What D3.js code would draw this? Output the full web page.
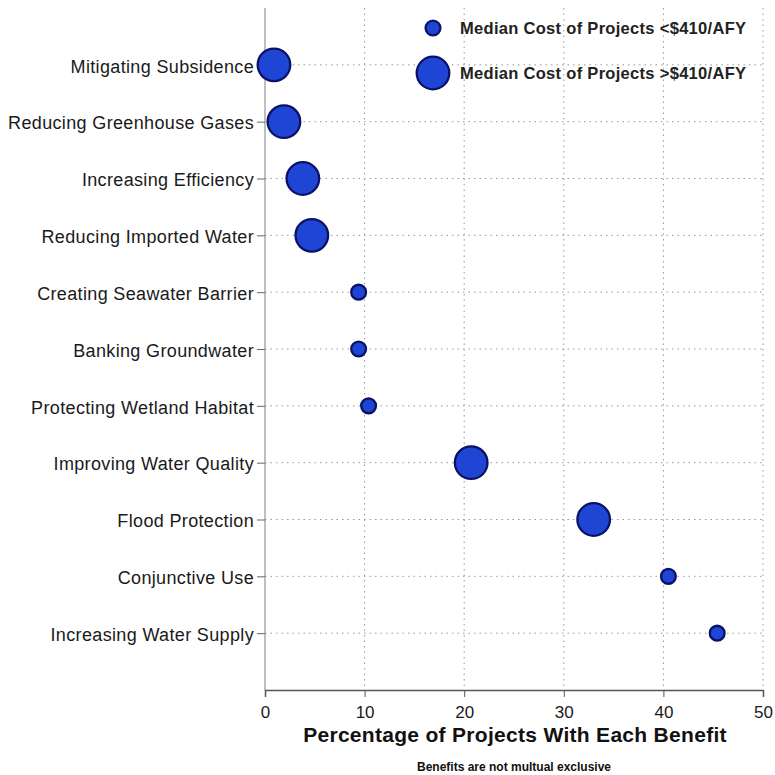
<!DOCTYPE html>
<html>
<head>
<meta charset="utf-8">
<script src="https://cdn.jsdelivr.net/npm/d3@7"></script>
<style>
  body { margin: 0; background: #fff; }
  text { font-family: "Liberation Sans", Arial, Helvetica, sans-serif; }
</style>
</head>
<body>
<svg id="chart" width="775" height="775"></svg>
<script>
const categories = [
  "Mitigating Subsidence",
  "Reducing Greenhouse Gases",
  "Increasing Efficiency",
  "Reducing Imported Water",
  "Creating Seawater Barrier",
  "Banking Groundwater",
  "Protecting Wetland Habitat",
  "Improving Water Quality",
  "Flood Protection",
  "Conjunctive Use",
  "Increasing Water Supply"
];
const percentages = [0.9, 1.9, 3.8, 4.7, 9.4, 9.4, 10.4, 20.7, 33.0, 40.5, 45.4];
// cost group: "high" = median cost > $410/AFY, "low" = < $410/AFY
const costGroup = ["high", "high", "high", "high", "low", "low", "low", "high", "high", "low", "low"];
const xTicks = [0, 10, 20, 30, 40, 50];
const legendLabels = ["Median Cost of Projects <$410/AFY", "Median Cost of Projects >$410/AFY"];
const legendGroups = ["low", "high"];

const svg = d3.select("#chart");
const margin = { left: 265, right: 12, top: 8, bottom: 85 };
const W = 775, H = 775;
const x0 = margin.left, x1 = W - margin.right, y0 = margin.top, y1 = H - margin.bottom;

const x = d3.scaleLinear().domain([0, 50]).range([x0, x1]);
const y = d3.scalePoint().domain(categories).range([y0, y1]).padding(1);
const r = d3.scaleOrdinal().domain(["low", "high"]).range([7.4, 16.3]);

const fill = "#1f45d4", stroke = "#0a1268";

// vertical gridlines
svg.append("g").selectAll("line").data(xTicks.filter(d => d > 0)).join("line")
  .attr("x1", d => x(d)).attr("x2", d => x(d))
  .attr("y1", y0).attr("y2", y1)
  .attr("stroke", "#999").attr("stroke-width", 1).attr("stroke-dasharray", "1.5,4");

// horizontal gridlines
svg.append("g").selectAll("line").data(categories).join("line")
  .attr("x1", x0).attr("x2", x1)
  .attr("y1", d => y(d)).attr("y2", d => y(d))
  .attr("stroke", "#999").attr("stroke-width", 1).attr("stroke-dasharray", "1.5,4");

// y axis
const yAxis = svg.append("g").attr("transform", `translate(${x0},0)`)
  .call(d3.axisLeft(y).tickSize(8).tickPadding(3));
yAxis.select(".domain").attr("d", `M0,${y0}V${y1}`).attr("stroke", "#aaa").attr("stroke-width", 1.5);
yAxis.selectAll(".tick line").attr("stroke", "#666");
yAxis.selectAll(".tick text").attr("font-size", 18).attr("fill", "#1a1a1a")
  .attr("dy", "0.4em").style("letter-spacing", "0.35px")
  .style("font-family", "'Liberation Sans', Arial, sans-serif");

// x axis
const xAxis = svg.append("g").attr("transform", `translate(0,${y1})`)
  .call(d3.axisBottom(x).tickValues(xTicks).tickSize(7).tickPadding(9));
xAxis.select(".domain").attr("stroke", "#555").attr("stroke-width", 1.5);
xAxis.selectAll(".tick line").attr("stroke", "#555");
xAxis.selectAll(".tick text").attr("font-size", 17).attr("fill", "#1a1a1a")
  .style("font-family", "'Liberation Sans', Arial, sans-serif");

// points
const data = categories.map((c, i) => ({ c, v: percentages[i], g: costGroup[i] }));
svg.append("g").selectAll("circle").data(data).join("circle")
  .attr("cx", d => x(d.v)).attr("cy", d => y(d.c))
  .attr("r", d => r(d.g))
  .attr("fill", fill).attr("stroke", stroke).attr("stroke-width", 2.3);

// legend
const leg = svg.append("g");
const legY = [28, 73];
legendLabels.forEach((lab, i) => {
  leg.append("circle").attr("cx", 433).attr("cy", legY[i]).attr("r", r(legendGroups[i]))
    .attr("fill", fill).attr("stroke", stroke).attr("stroke-width", 2.3);
  leg.append("text").attr("x", 460).attr("y", legY[i] + 6).attr("font-size", 16.5)
    .attr("font-weight", "bold").attr("fill", "#222").style("letter-spacing", "0.3px").text(lab);
});

// titles
svg.append("text").attr("x", 515).attr("y", 742).attr("text-anchor", "middle")
  .attr("font-size", 21).attr("font-weight", "bold").attr("fill", "#111")
  .style("letter-spacing", "0.3px")
  .text("Percentage of Projects With Each Benefit");
svg.append("text").attr("x", 514).attr("y", 771).attr("text-anchor", "middle")
  .attr("font-size", 12).attr("font-weight", "bold").attr("fill", "#111")
  .text("Benefits are not multual exclusive");
</script>
</body>
</html>
